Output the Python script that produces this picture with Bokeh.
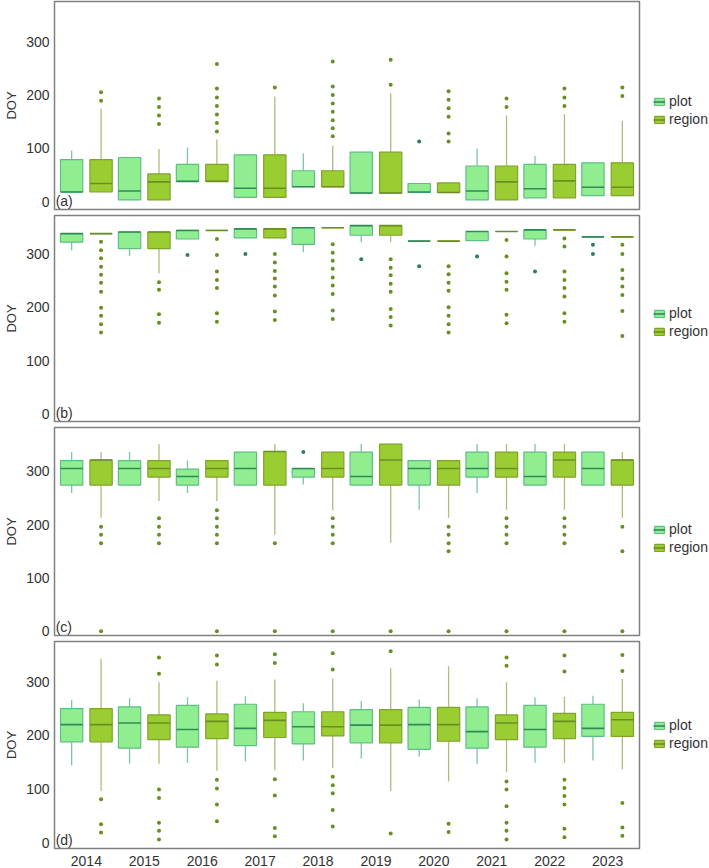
from bokeh.plotting import figure
from bokeh.layouts import column
from bokeh.models import Range1d, FixedTicker, Legend, LegendItem, Label, ColumnDataSource
from bokeh.embed import file_html
from bokeh.resources import INLINE

YEARS = [2014, 2015, 2016, 2017, 2018, 2019, 2020, 2021, 2022, 2023]
GROUPS = ["plot", "region"]

# ---------------- panel (a) ----------------
A_PLOT_LO = [18, 3, 38, 8, 28, 16, 17, 3, 7, 11]
A_PLOT_Q1 = [18, 3, 38, 8, 28, 16, 17, 3, 7, 11]
A_PLOT_MED = [18, 20, 38, 25, 28, 16, 18, 20, 24, 27]
A_PLOT_Q3 = [79, 83, 70, 88, 58, 93, 34, 67, 70, 73]
A_PLOT_HI = [96, 83, 102, 88, 91, 93, 34, 100, 86, 73]
A_PLOT_OUT = [[], [], [], [], [], [], [113], [], [], []]

A_REG_LO = [18, 3, 38, 8, 28, 16, 17, 3, 7, 11]
A_REG_Q1 = [18, 3, 38, 8, 28, 16, 17, 3, 7, 11]
A_REG_MED = [34, 37, 38, 25, 28, 16, 17, 37, 39, 27]
A_REG_Q3 = [79, 52, 70, 88, 58, 93, 35, 67, 70, 73]
A_REG_HI = [175, 99, 117, 198, 105, 204, 35, 162, 165, 152]
A_REG_OUT = [[190, 206], [146, 162, 178, 194], [132, 148, 164, 180, 196, 213, 259],
             [215], [123, 138, 153, 169, 185, 201, 217, 264], [220, 267],
             [113, 128, 160, 176, 192, 208], [178, 194], [180, 196, 213], [199, 215]]

# ---------------- panel (b) ----------------
B_PLOT_LO = [307, 296, 328, 330, 303, 322, 324, 325, 315, 332]
B_PLOT_Q1 = [322, 310, 328, 330, 318, 335, 324, 325, 328, 332]
B_PLOT_MED = [338, 341, 344, 347, 349, 353, 324, 342, 345, 332]
B_PLOT_Q3 = [338, 341, 344, 347, 349, 353, 324, 342, 345, 332]
B_PLOT_HI = [338, 341, 344, 347, 349, 353, 324, 342, 345, 332]
B_PLOT_OUT = [[], [], [298], [300], [], [290], [277], [295], [267], [300, 317]]

B_REG_LO = [338, 264, 344, 330, 349, 322, 324, 342, 345, 332]
B_REG_Q1 = [338, 310, 344, 330, 349, 335, 324, 342, 345, 332]
B_REG_MED = [338, 341, 344, 347, 349, 353, 324, 342, 345, 332]
B_REG_Q3 = [338, 341, 344, 347, 349, 353, 324, 342, 345, 332]
B_REG_HI = [338, 341, 344, 347, 349, 353, 324, 342, 345, 332]
B_REG_OUT = [[153, 168, 184, 199, 229, 246, 261, 276, 292, 307, 323],
             [171, 187, 233, 247],
             [173, 189, 236, 251, 267, 298, 328],
             [176, 192, 222, 239, 254, 268, 284, 300],
             [178, 194, 225, 241, 256, 272, 287, 302, 318],
             [166, 182, 197, 229, 244, 260, 274, 290],
             [153, 168, 184, 200, 231, 246, 262, 277],
             [170, 186, 233, 248, 264, 295, 326],
             [173, 189, 220, 236, 251, 267, 314, 329],
             [146, 193, 223, 239, 254, 270, 300, 317]]

# ---------------- panel (c) ----------------
C_PLOT_LO = [259, 274, 259, 274, 275, 274, 228, 259, 274, 274]
C_PLOT_Q1 = [274, 274, 274, 274, 289, 274, 274, 289, 274, 274]
C_PLOT_MED = [305, 305, 290, 305, 305, 290, 305, 305, 290, 305]
C_PLOT_Q3 = [320, 320, 304, 336, 305, 336, 320, 336, 336, 336]
C_PLOT_HI = [336, 336, 320, 336, 305, 351, 320, 351, 351, 336]
C_PLOT_OUT = [[], [], [], [], [336], [], [], [], [], []]

C_REG_LO = [213, 244, 244, 181, 227, 166, 213, 228, 228, 213]
C_REG_Q1 = [274, 289, 289, 274, 289, 274, 274, 289, 289, 274]
C_REG_MED = [321, 305, 305, 337, 305, 321, 305, 305, 321, 321]
C_REG_Q3 = [321, 320, 320, 337, 336, 351, 320, 336, 336, 321]
C_REG_HI = [336, 351, 320, 351, 336, 351, 320, 351, 351, 336]
C_REG_OUT = [[0, 165, 181, 196], [165, 181, 196, 212], [0, 165, 181, 196, 212, 227],
             [0, 165], [0, 165, 181, 196, 212], [0], [0, 150, 165, 181, 196],
             [0, 165, 181, 196, 212], [0, 165, 181, 196, 212], [0, 150, 196]]

# ---------------- panel (d) ----------------
D_PLOT_LO = [144, 147, 149, 151, 153, 157, 160, 147, 149, 153]
D_PLOT_Q1 = [188, 176, 178, 181, 184, 186, 174, 176, 178, 198]
D_PLOT_MED = [220, 223, 211, 213, 216, 219, 220, 207, 211, 213]
D_PLOT_Q3 = [250, 253, 256, 258, 244, 248, 252, 253, 256, 258]
D_PLOT_HI = [266, 269, 271, 273, 260, 264, 267, 269, 271, 274]
D_PLOT_OUT = [[], [], [], [], [], [], [], [], [], []]

D_REG_LO = [96, 147, 134, 135, 139, 96, 114, 131, 149, 137]
D_REG_Q1 = [188, 192, 194, 196, 199, 186, 189, 192, 194, 198]
D_REG_MED = [220, 223, 226, 228, 216, 219, 220, 223, 226, 229]
D_REG_Q3 = [250, 238, 240, 243, 244, 248, 252, 238, 241, 243]
D_REG_HI = [343, 299, 302, 304, 306, 325, 329, 299, 272, 305]
D_REG_OUT = [[19, 34, 81], [6, 22, 37, 83, 99, 315, 345], [40, 71, 101, 117, 332, 349],
             [12, 27, 88, 118, 335, 351], [30, 61, 92, 107, 123, 323, 353], [17, 357],
             [20, 35], [6, 22, 37, 68, 99, 114, 330, 345],
             [10, 26, 71, 87, 102, 117, 319, 349], [13, 28, 74, 320, 350]]

Y_TICKS = [0, 100, 200, 300]
PANEL_TAGS = ["(a)", "(b)", "(c)", "(d)"]

FONT = "Liberation Sans"
TEXT = "#333333"

STYLE = {
    "plot": dict(fill="#90EE90", line="#5DBE86", med="#2E8B57", whisk="#7CC6A6", out="#2E7D5E", off=-0.254),
    "region": dict(fill="#9ACD32", line="#7FA32B", med="#6B8E23", whisk="#B3B97F", out="#6B8E23", off=0.254),
}
BOX_W = 0.385
FRAME_W = 585


def make_panel(tag, stats, outs, yr, show_x, frame_h, bottom, leg_y):
    p = figure(frame_width=FRAME_W, frame_height=frame_h,
               x_range=Range1d(2013.45, 2023.55), y_range=Range1d(*yr),
               output_backend="svg", toolbar_location=None,
               x_axis_location="below" if show_x else None,
               min_border_left=54, min_border_right=70,
               min_border_top=1, min_border_bottom=bottom)
    p.xgrid.visible = False
    p.ygrid.visible = False
    p.outline_line_color = "#808080"
    p.outline_line_width = 1.5
    p.background_fill_color = "white"
    p.border_fill_color = "white"

    yax = p.yaxis[0]
    yax.ticker = FixedTicker(ticks=Y_TICKS)
    yax.axis_line_color = None
    yax.major_tick_line_color = None
    yax.minor_tick_line_color = None
    yax.major_tick_out = 0
    yax.major_tick_in = 0
    yax.minor_tick_out = 0
    yax.major_label_text_font = FONT
    yax.major_label_text_font_size = "14px"
    yax.major_label_text_color = TEXT
    yax.major_label_standoff = 5
    yax.axis_label = "DOY"
    yax.axis_label_text_font = FONT
    yax.axis_label_text_font_size = "13px"
    yax.axis_label_text_font_style = "normal"
    yax.axis_label_text_color = TEXT
    yax.axis_label_standoff = 4

    if show_x:
        xax = p.xaxis[0]
        xax.ticker = FixedTicker(ticks=YEARS)
        xax.axis_line_color = None
        xax.major_tick_line_color = None
        xax.minor_tick_line_color = None
        xax.major_tick_out = 0
        xax.major_tick_in = 0
        xax.minor_tick_out = 0
        xax.major_label_text_font = FONT
        xax.major_label_text_font_size = "14px"
        xax.major_label_text_color = TEXT
        xax.major_label_standoff = 7

    items = []
    for g in GROUPS:
        s = STYLE[g]
        lo, q1, med, q3, hi = stats[g]
        xs = [y + s["off"] for y in YEARS]
        src = ColumnDataSource(dict(
            x=xs, x0=[x - BOX_W / 2 for x in xs], x1=[x + BOX_W / 2 for x in xs],
            lo=lo, q1=q1, med=med, q3=q3, hi=hi))
        p.segment(x0="x", x1="x", y0="q3", y1="hi", source=src, line_color=s["whisk"], line_width=1.3)
        p.segment(x0="x", x1="x", y0="lo", y1="q1", source=src, line_color=s["whisk"], line_width=1.3)
        box = p.vbar(x="x", width=BOX_W, top="q3", bottom="q1", source=src,
                     fill_color=s["fill"], line_color=s["line"], line_width=1.2)
        medr = p.segment(x0="x0", x1="x1", y0="med", y1="med", source=src,
                         line_color=s["med"], line_width=1.6)
        ox, oy = [], []
        for xo, vals in zip(xs, outs[g]):
            for v in vals:
                ox.append(xo)
                oy.append(v)
        p.scatter(x=ox, y=oy, size=4, marker="circle", fill_color=s["out"], line_color=None)
        items.append(LegendItem(label=g, renderers=[box, medr]))

    leg = Legend(items=items, location=(14, leg_y), orientation="vertical",
                 glyph_width=12, glyph_height=9, label_height=14, spacing=2,
                 padding=0, margin=0, label_standoff=4,
                 label_text_font=FONT, label_text_font_size="14px", label_text_color=TEXT,
                 border_line_color=None, background_fill_alpha=0)
    p.add_layout(leg, "right")

    p.add_layout(Label(x=2013.47, y=yr[0], text=tag, text_baseline="bottom", y_offset=1,
                       text_font=FONT, text_font_size="14px", text_color=TEXT))
    return p


pa = make_panel(PANEL_TAGS[0],
                {"plot": (A_PLOT_LO, A_PLOT_Q1, A_PLOT_MED, A_PLOT_Q3, A_PLOT_HI),
                 "region": (A_REG_LO, A_REG_Q1, A_REG_MED, A_REG_Q3, A_REG_HI)},
                {"plot": A_PLOT_OUT, "region": A_REG_OUT}, (-15, 377), False, 208, 5, 82)
pb = make_panel(PANEL_TAGS[1],
                {"plot": (B_PLOT_LO, B_PLOT_Q1, B_PLOT_MED, B_PLOT_Q3, B_PLOT_HI),
                 "region": (B_REG_LO, B_REG_Q1, B_REG_MED, B_REG_Q3, B_REG_HI)},
                {"plot": B_PLOT_OUT, "region": B_REG_OUT}, (-14, 372), False, 206, 5, 82)
pc = make_panel(PANEL_TAGS[2],
                {"plot": (C_PLOT_LO, C_PLOT_Q1, C_PLOT_MED, C_PLOT_Q3, C_PLOT_HI),
                 "region": (C_REG_LO, C_REG_Q1, C_REG_MED, C_REG_Q3, C_REG_HI)},
                {"plot": C_PLOT_OUT, "region": C_REG_OUT}, (-8, 382), False, 208, 5, 80)
pd_ = make_panel(PANEL_TAGS[3],
                 {"plot": (D_PLOT_LO, D_PLOT_Q1, D_PLOT_MED, D_PLOT_Q3, D_PLOT_HI),
                  "region": (D_REG_LO, D_REG_Q1, D_REG_MED, D_REG_Q3, D_REG_HI)},
                 {"plot": D_PLOT_OUT, "region": D_REG_OUT}, (-11, 375), True, 207, 18, 97)

layout = column(pa, pb, pc, pd_, spacing=0)
open("out.html", "w").write(file_html(layout, INLINE))
